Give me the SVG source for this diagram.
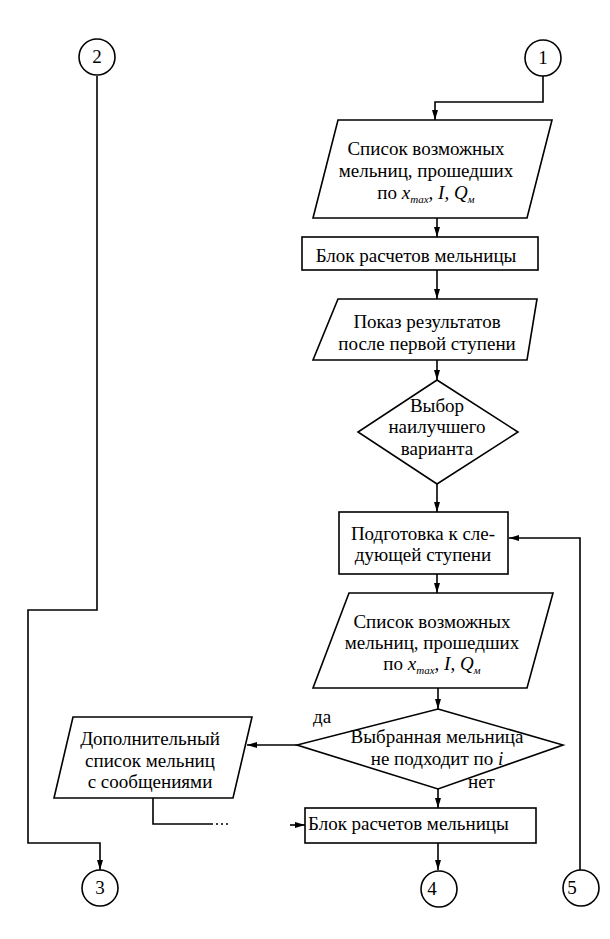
<svg xmlns="http://www.w3.org/2000/svg" width="610" height="939" viewBox="0 0 610 939">
<style>
.s{fill:#fff;stroke:#000;stroke-width:1.6}
.c{fill:none;stroke:#000;stroke-width:1.6}
.t{font-family:"Liberation Serif","Times New Roman",serif;font-size:19px;fill:#000}
.m{text-anchor:middle}
.i{font-style:italic}
.sub{font-size:11px;font-style:italic}
</style>
<defs>
<marker id="a" viewBox="0 0 10 6" markerWidth="10" markerHeight="6" refX="10" refY="3" orient="auto" markerUnits="userSpaceOnUse">
<path d="M0,0 L10,3 L0,6 z" fill="#000"/>
</marker>
</defs>
<rect width="610" height="939" fill="#fff"/>
<g id="connectors">
<path class="c" d="M543,76 V102 H435 V120" marker-end="url(#a)"/>
<path class="c" d="M437,218 V237" marker-end="url(#a)"/>
<path class="c" d="M437,270 V299" marker-end="url(#a)"/>
<path class="c" d="M437,360 V380" marker-end="url(#a)"/>
<path class="c" d="M437,484 V512" marker-end="url(#a)"/>
<path class="c" d="M437,574 V593" marker-end="url(#a)"/>
<path class="c" d="M438,688 V709" marker-end="url(#a)"/>
<path class="c" d="M297,745 H247" marker-end="url(#a)"/>
<path class="c" d="M438,789 V808" marker-end="url(#a)"/>
<path class="c" d="M438,843 V870" marker-end="url(#a)"/>
<path class="c" d="M580,870 V538 H509" marker-end="url(#a)"/>
<path class="c" d="M97,76 V610 H28 V843 H100 V870" marker-end="url(#a)"/>
<path class="c" d="M153,798 V824 H213"/>
<path class="c" d="M216,824 H231" stroke-dasharray="2 3"/>
<path class="c" d="M290,825 H305" marker-end="url(#a)"/>
</g>
<g id="c1"><circle class="s" cx="543" cy="58" r="18"/><text class="t m" x="543" y="64">1</text></g>
<g id="c2"><circle class="s" cx="97" cy="57" r="18"/><text class="t m" x="97" y="63">2</text></g>
<g id="c3"><circle class="s" cx="100" cy="888" r="18"/><text class="t m" x="100" y="894">3</text></g>
<g id="c4"><circle class="s" cx="439" cy="889" r="18"/><text class="t m" x="432" y="895">4</text></g>
<g id="c5"><circle class="s" cx="581" cy="888" r="18"/><text class="t m" x="572" y="894">5</text></g>
<g id="p1">
<polygon class="s" points="338,120 552,120 527,218 313,218"/>
<text class="t m" x="426" y="155">Список возможных</text>
<text class="t m" x="426" y="177">мельниц, прошедших</text>
<text class="t m" x="426" y="199">по <tspan class="i">x</tspan><tspan class="sub" dy="4">max</tspan><tspan dy="-4">, </tspan><tspan class="i">I</tspan>, <tspan class="i">Q</tspan><tspan class="sub" dy="4">м</tspan></text>
</g>
<g id="b1">
<rect class="s" x="302" y="237" width="236" height="33"/>
<text class="t m" x="416" y="262">Блок расчетов мельницы</text>
</g>
<g id="p2">
<polygon class="s" points="338,299 537,299 527,360 313,360"/>
<text class="t m" x="427" y="328">Показ результатов</text>
<text class="t m" x="427" y="350">после первой ступени</text>
</g>
<g id="d1">
<polygon class="s" points="437,380 518,432 437,484 358,432"/>
<text class="t m" x="437" y="412">Выбор</text>
<text class="t m" x="437" y="433">наилучшего</text>
<text class="t m" x="437" y="455">варианта</text>
</g>
<g id="b2">
<rect class="s" x="339" y="512" width="169" height="62"/>
<text class="t m" x="423" y="540">Подготовка к сле-</text>
<text class="t m" x="423" y="561">дующей ступени</text>
</g>
<g id="p3">
<polygon class="s" points="349,593 553,593 527,688 313,688"/>
<text class="t m" x="432" y="628">Список возможных</text>
<text class="t m" x="432" y="649">мельниц, прошедших</text>
<text class="t m" x="432" y="670">по <tspan class="i">x</tspan><tspan class="sub" dy="4">max</tspan><tspan dy="-4">, </tspan><tspan class="i">I</tspan>, <tspan class="i">Q</tspan><tspan class="sub" dy="4">м</tspan></text>
</g>
<g id="d2">
<polygon class="s" points="438,709 563,745 438,789 297,745"/>
<text class="t m" x="437" y="743">Выбранная мельница</text>
<text class="t m" x="437" y="765">не подходит по <tspan class="i">i</tspan></text>
<text class="t" x="313" y="723">да</text>
<text class="t" x="468" y="788">нет</text>
</g>
<g id="p4">
<polygon class="s" points="73,717 252,717 233,798 54,798"/>
<text class="t m" x="150" y="745">Дополнительный</text>
<text class="t m" x="150" y="767">список мельниц</text>
<text class="t m" x="150" y="788">с сообщениями</text>
</g>
<g id="b3">
<rect class="s" x="305" y="808" width="231" height="35"/>
<text class="t" x="308" y="830">Блок расчетов мельницы</text>
</g>
</svg>
